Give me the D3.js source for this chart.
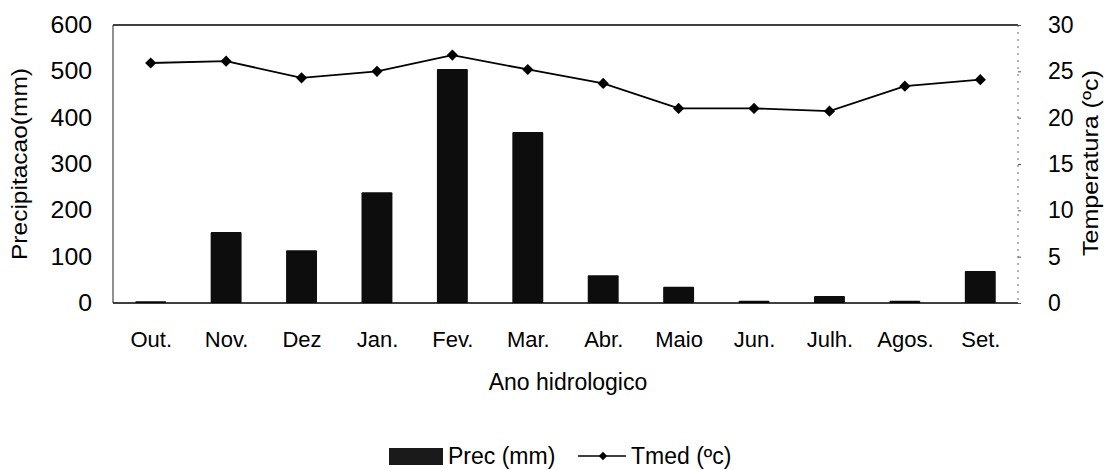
<!DOCTYPE html>
<html><head><meta charset="utf-8">
<script src="https://cdn.jsdelivr.net/npm/d3@7/dist/d3.min.js"></script>
<style>body{margin:0;background:#fff}svg text{font-family:"Liberation Sans",Arial,sans-serif;fill:#000}</style>
</head><body><svg id="c" width="1109" height="470"></svg>
<script>
const months = ["Out.","Nov.","Dez","Jan.","Fev.","Mar.","Abr.","Maio","Jun.","Julh.","Agos.","Set."];
const prec = [4,153,114,239,505,369,60,35,5,15,5,69];
const tmed = [25.9,26.1,24.3,25.0,26.75,25.2,23.7,21.0,21.0,20.7,23.4,24.1];
const precTicks = [0,100,200,300,400,500,600];
const tempTicks = [0,5,10,15,20,25,30];

const svg = d3.select("#c");
const L=113, R=1018, T=25, B=303;
const x = d3.scaleBand().domain(months).range([L,R]).paddingInner(0.59).paddingOuter(0.295);
const xp = d3.scalePoint().domain(months).range([L,R]).padding(0.5);
const yL = d3.scaleLinear().domain([0,600]).range([B,T]);
const yR = d3.scaleLinear().domain([0,30]).range([B,T]);

function stretch(sel, f){
  sel.each(function(){
    const w = this.getComputedTextLength();
    d3.select(this).attr("textLength", w*f).attr("lengthAdjust","spacingAndGlyphs");
  });
}

// frame
svg.append("line").attr("x1",L).attr("x2",R).attr("y1",T).attr("y2",T).attr("stroke","#000").attr("stroke-width",1.5);
svg.append("line").attr("x1",L).attr("x2",L).attr("y1",T).attr("y2",B).attr("stroke","#222").attr("stroke-width",1);
svg.append("line").attr("x1",R).attr("x2",R).attr("y1",T).attr("y2",B).attr("stroke","#666").attr("stroke-width",1).attr("stroke-dasharray","2,5");

// left axis
const ax = d3.axisLeft(yL).tickValues(precTicks).tickSize(0).tickPadding(21);
const gl = svg.append("g").attr("transform",`translate(${L},0)`).call(ax);
gl.select(".domain").remove();
gl.selectAll("text").style("font-size","23px").style("font-family","Liberation Sans, Arial, sans-serif");
stretch(gl.selectAll("text"), 1.08);
// right axis
const ar = d3.axisRight(yR).tickValues(tempTicks).tickSize(3).tickPadding(27);
const gr = svg.append("g").attr("transform",`translate(${R},0)`).call(ar);
gr.select(".domain").remove();
gr.selectAll("line").attr("stroke","#555");
gr.selectAll("text").style("font-size","23px").style("font-family","Liberation Sans, Arial, sans-serif");

// bars
svg.append("g").selectAll("rect").data(months).join("rect")
  .attr("x",d=>x(d)).attr("width",x.bandwidth())
  .attr("y",(d,i)=>yL(prec[i])).attr("height",(d,i)=>B-yL(prec[i]))
  .attr("fill","#0d0d0d").attr("rx",1);

// baseline
svg.append("line").attr("x1",L).attr("x2",R).attr("y1",B).attr("y2",B).attr("stroke","#000").attr("stroke-width",1.5);

// line
const line = d3.line().x((d,i)=>xp(months[i])).y(d=>yR(d));
svg.append("path").datum(tmed).attr("d",line).attr("fill","none").attr("stroke","#000").attr("stroke-width",1.8);
const diamond = d3.symbol().type(d3.symbolDiamond2).size(80);
svg.append("g").selectAll("path").data(tmed).join("path")
  .attr("d",diamond).attr("transform",(d,i)=>`translate(${xp(months[i])},${yR(d)})`).attr("fill","#000");

// x labels
const gx = svg.append("g").attr("transform",`translate(0,${B})`).call(d3.axisBottom(xp).tickSize(0).tickPadding(28));
gx.select(".domain").remove();
gx.selectAll("text").style("font-size","22px").style("font-family","Liberation Sans, Arial, sans-serif");

// titles
svg.append("text").attr("x",568).attr("y",390).attr("text-anchor","middle").style("font-size","23px").text("Ano hidrologico");
const t1 = svg.append("text").attr("transform","translate(27,164) rotate(-90)").attr("text-anchor","middle").style("font-size","22px").text("Precipitacao(mm)")
  .attr("textLength",192).attr("lengthAdjust","spacingAndGlyphs");
const t2 = svg.append("text").attr("transform","translate(1098,163) rotate(-90)").attr("text-anchor","middle").style("font-size","22px").text("Temperatura (ºc)")
  .attr("textLength",186).attr("lengthAdjust","spacingAndGlyphs");

// legend
const ly = 456;
svg.append("rect").attr("x",389).attr("y",ly-8).attr("width",54).attr("height",17).attr("fill","#1a1a1a");
svg.append("text").attr("x",448).attr("y",ly+8).style("font-size","23px").text("Prec (mm)");
svg.append("line").attr("x1",578).attr("x2",626).attr("y1",ly).attr("y2",ly).attr("stroke","#000").attr("stroke-width",1.6);
svg.append("path").attr("d",d3.symbol().type(d3.symbolDiamond2).size(45)).attr("transform",`translate(603,${ly})`);
svg.append("text").attr("x",631).attr("y",ly+8).style("font-size","23px").text("Tmed (ºc)");
</script></body></html>
